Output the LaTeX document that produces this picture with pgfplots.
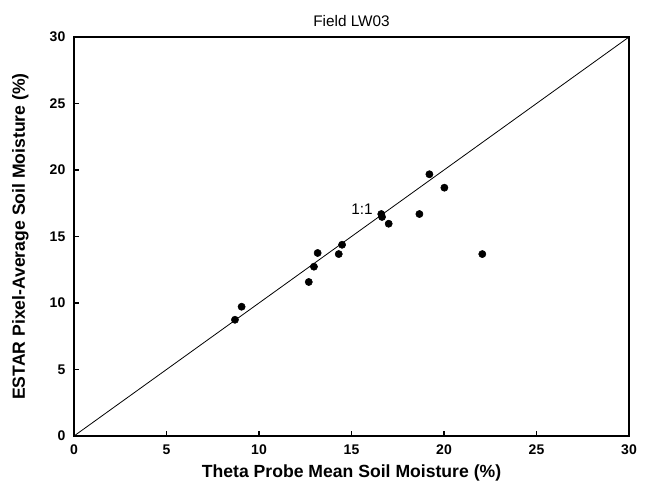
\documentclass[border=0pt]{standalone}
\usepackage{fontspec}
\setmainfont{Liberation Sans}
\usepackage{pgfplots}
\pgfplotsset{compat=1.18}
\begin{document}
\begin{tikzpicture}
\begin{axis}[
  scale only axis,
  width=416.25pt, height=299.25pt,
  xmin=0, xmax=30, ymin=0, ymax=30,
  xtick={0,5,...,30}, ytick={0,5,...,30},
  tick align=inside,
  xtick pos=bottom, ytick pos=left,
  major tick length=4pt,
  tick style={black, line width=0.8pt},
  axis line style={line width=0.8pt},
  /pgf/number format/assume math mode=true,
  ticklabel style={font=\fontsize{10.5}{12}\selectfont\bfseries},
  xticklabel style={yshift=-3pt},
  yticklabel style={xshift=-3pt},
  xlabel={Theta Probe Mean Soil Moisture (\%)},
  ylabel={ESTAR Pixel-Average Soil Moisture (\%)},
  label style={font=\fontsize{13.2}{15}\selectfont\bfseries},
  xlabel style={yshift=-1pt},
  ylabel style={yshift=9pt},
  title={Field LW03},
  title style={font=\fontsize{11.5}{13}\selectfont, yshift=-2pt},
  clip=false,
]
\addplot[black, line width=0.6pt, no marks] coordinates {(0,0) (30,30)};
\addplot[only marks, mark=*, mark size=2.7pt, black] coordinates {
(8.70,8.74) (9.06,9.72) (12.69,11.58) (12.97,12.73) (13.17,13.76)
(14.31,13.68) (14.49,14.38) (16.61,16.69) (16.65,16.47) (17.01,15.96)
(18.67,16.69) (19.21,19.68) (20.02,18.67) (22.07,13.68)
};
\node[anchor=east, inner sep=0pt, font=\fontsize{11.5}{13}\selectfont] at (axis cs:16.16,17.07) {1:1};
\end{axis}
\pgfresetboundingbox
\path (current axis.south west) ++(-55.5pt,-34.5pt) coordinate (bl);
\path (current axis.north east) ++(14.25pt,27.75pt) coordinate (tr);
\path (bl) rectangle (tr);
\end{tikzpicture}
\end{document}
